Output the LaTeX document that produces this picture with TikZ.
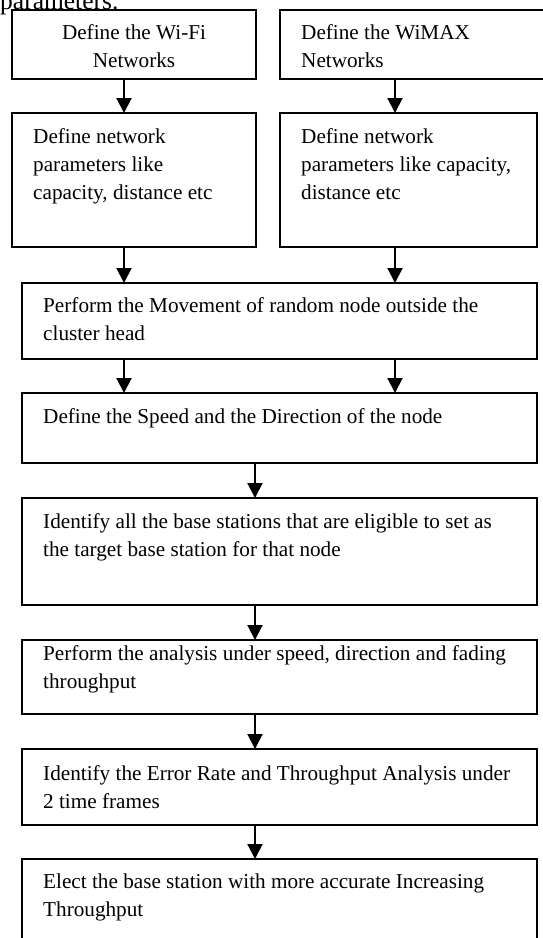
\documentclass[tikz,border=0pt]{standalone}
\usepackage{fontspec}
\setmainfont{Liberation Serif}
\usetikzlibrary{arrows.meta}
\begin{document}
\begin{tikzpicture}[x=1pt,y=-1pt,
  box/.style={draw, line width=1.8pt, rectangle, anchor=north west, inner sep=0pt, outer sep=0pt},
  txt/.style={anchor=north west, inner sep=0pt, align=left, font=\fontsize{21.2}{28}\selectfont},
  ctxt/.style={anchor=north, inner sep=0pt, align=center, font=\fontsize{21.2}{28}\selectfont},
  arr/.style={line width=2pt, -{Triangle[length=15pt,width=15pt]}}]
\useasboundingbox (0,0) rectangle (543,938);
\newcommand{\fl}{\rule{0pt}{15pt}}
% clipped heading fragment
\node[anchor=base west, inner sep=0pt, font=\fontsize{25.5}{30}\selectfont] (hdr) at (0,9) {parameters.};
% boxes
\node[box, minimum width=244pt, minimum height=69pt] (t1) at (12,10) {};
\node[box, minimum width=280pt, minimum height=69pt] (t2) at (280,10) {};
\node[box, minimum width=244pt, minimum height=134pt] (s1) at (12,113) {};
\node[box, minimum width=257pt, minimum height=134pt] (s2) at (280,113) {};
\node[box, minimum width=515pt, minimum height=76pt] (m1) at (22,283) {};
\node[box, minimum width=515pt, minimum height=70pt] (m2) at (22,393) {};
\node[box, minimum width=515pt, minimum height=107pt] (m3) at (22,498) {};
\node[box, minimum width=515pt, minimum height=74pt] (m4) at (22,640) {};
\node[box, minimum width=515pt, minimum height=76pt] (m5) at (22,749) {};
\node[box, minimum width=515pt, minimum height=100pt] (m6) at (22,859) {};
% texts
\node[ctxt] (t1t) at (134,24) {\fl Define the Wi-Fi\\Networks};
\node[txt] (t2t) at (301,24) {\fl Define the WiMAX\\Networks};
\node[txt] (s1t) at (33,128) {\fl Define network\\parameters like\\capacity, distance etc};
\node[txt] (s2t) at (301,128) {\fl Define network\\parameters like capacity,\\distance etc};
\node[txt] (m1t) at (43,297) {\fl Perform the Movement of random node outside the\\cluster head};
\node[txt] (m2t) at (43,408) {\fl Define the Speed and the Direction of the node};
\node[txt] (m3t) at (43,513) {\fl Identify all the base stations that are eligible to set as\\the target base station for that node};
\node[txt] (m4t) at (43,645) {\fl Perform the analysis under speed, direction and fading\\throughput};
\node[txt] (m5t) at (43,765) {\fl Identify the Error Rate and Throughput Analysis under\\2 time frames};
\node[txt] (m6t) at (43,873) {\fl Elect the base station with more accurate Increasing\\Throughput};
% arrow columns
\coordinate (xl) at (124,0);
\coordinate (xr) at (395,0);
\coordinate (xc) at (255,0);
\draw[arr] (t1.south -| xl) -- (s1.north -| xl);
\draw[arr] (t2.south -| xr) -- (s2.north -| xr);
\draw[arr] (s1.south -| xl) -- (m1.north -| xl);
\draw[arr] (s2.south -| xr) -- (m1.north -| xr);
\draw[arr] (m1.south -| xl) -- (m2.north -| xl);
\draw[arr] (m1.south -| xr) -- (m2.north -| xr);
\draw[arr] (m2.south -| xc) -- (m3.north -| xc);
\draw[arr] (m3.south -| xc) -- (m4.north -| xc);
\draw[arr] (m4.south -| xc) -- (m5.north -| xc);
\draw[arr] (m5.south -| xc) -- (m6.north -| xc);
\end{tikzpicture}
\end{document}
